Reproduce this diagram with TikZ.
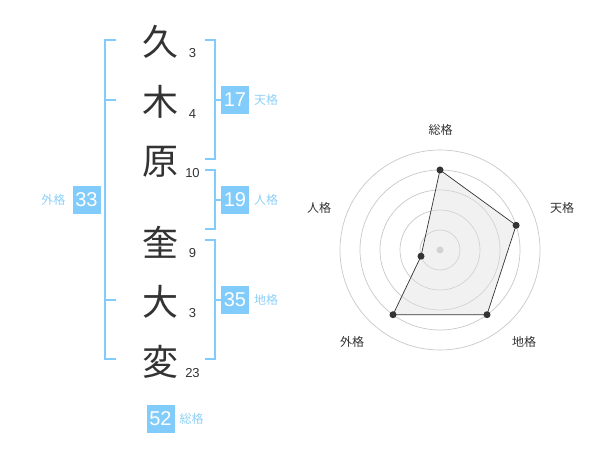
\documentclass[tikz,border=0pt]{standalone}
\usepackage{fontspec}
\setmainfont{Noto Sans CJK JP}
\newfontfamily\numfont{Liberation Sans}
\definecolor{brk}{HTML}{81CCFB}
\definecolor{lbl}{HTML}{8FD0F8}
\definecolor{ink}{HTML}{333333}
\definecolor{grid}{HTML}{C8C8C8}
\tikzset{
  kanji/.style={inner sep=0pt, font=\fontsize{36}{36}\selectfont, text=ink},
  strokes/.style={inner sep=0pt, font=\numfont\fontsize{13}{13}\selectfont, text=ink},
  brack/.style={draw=brk, line width=2pt},
  numbox/.style={fill=brk, minimum width=28pt, minimum height=28pt, inner sep=0pt, text=white, font=\numfont\fontsize{20}{20}\selectfont},
  kaku/.style={inner sep=0pt, text=lbl, font=\fontsize{12}{12}\selectfont},
  axlbl/.style={inner sep=0pt, text=ink, font=\fontsize{12}{12}\selectfont},
  ring/.style={draw=grid, line width=0.7pt},
  dot/.style={circle, fill=ink, inner sep=0pt, minimum size=7pt},
}
\begin{document}
\begin{tikzpicture}[x=1pt, y=-1pt]
\useasboundingbox (0,0) rectangle (600,470);
% kanji
\node[kanji] (k1) at (160,42) {久};
\node[kanji] (k2) at (160,102) {木};
\node[kanji] (k3) at (160,162) {原};
\node[kanji] (k4) at (160,242) {奎};
\node[kanji] (k5) at (160,302) {大};
\node[kanji] (k6) at (160,362) {変};
% stroke counts
\node[strokes] (s1) at (192.5,53) {3};
\node[strokes] (s2) at (192.5,114) {4};
\node[strokes] (s3) at (192.5,173) {10};
\node[strokes] (s4) at (192.5,253) {9};
\node[strokes] (s5) at (192.5,313) {3};
\node[strokes] (s6) at (192.5,373) {23};
% outer bracket
\draw[brack] (116,40) -- (105,40) -- (105,359) -- (116,359);
\draw[brack] (105,100) -- (116,100);
\draw[brack] (105,300) -- (116,300);
\node[numbox] (b33) at (86.5,200) {33};
\node[kaku] (g33) at (53.5,200) {外格};
% tenkaku bracket
\draw[brack] (205,40) -- (214.5,40) -- (214.5,159) -- (205,159);
\draw[brack] (214.5,100) -- (221,100);
\node[numbox] (b17) at (235,100) {17};
\node[kaku] (g17) at (266,100) {天格};
% jinkaku bracket
\draw[brack] (205,170) -- (214.5,170) -- (214.5,229) -- (205,229);
\draw[brack] (214.5,200) -- (221,200);
\node[numbox] (b19) at (235,200) {19};
\node[kaku] (g19) at (266,200) {人格};
% chikaku bracket
\draw[brack] (205,240) -- (214.5,240) -- (214.5,359) -- (205,359);
\draw[brack] (214.5,300) -- (221,300);
\node[numbox] (b35) at (235,300) {35};
\node[kaku] (g35) at (266,300) {地格};
% soukaku
\node[numbox] (b52) at (160.5,419) {52};
\node[kaku] (g52) at (191.5,419) {総格};
% radar
\coordinate (c) at (440,250);
\foreach \r in {20,40,60,80,100} \draw[ring] (c) circle[radius=\r];
\fill[grid] (c) circle[radius=3.5];
\path (c) ++(0,-80) coordinate (pS);
\path (c) ++(76.1,-24.7) coordinate (pT);
\path (c) ++(47,64.7) coordinate (pC);
\path (c) ++(-47,64.7) coordinate (pG);
\path (c) ++(-19,6.2) coordinate (pJ);
\fill[black!12, fill opacity=0.45] (pS) -- (pT) -- (pC) -- (pG) -- (pJ) -- cycle;
\draw[ink, line width=0.7pt] (pS) -- (pT) -- (pC) -- (pG) -- (pJ) -- cycle;
\foreach \p in {pS,pT,pC,pG,pJ} \node[dot] at (\p) {};
\node[axlbl] (aS) at (440.5,130) {総格};
\node[axlbl] (aT) at (562,208) {天格};
\node[axlbl] (aC) at (524,342) {地格};
\node[axlbl] (aG) at (352,342) {外格};
\node[axlbl] (aJ) at (319,208) {人格};
\end{tikzpicture}
\end{document}
